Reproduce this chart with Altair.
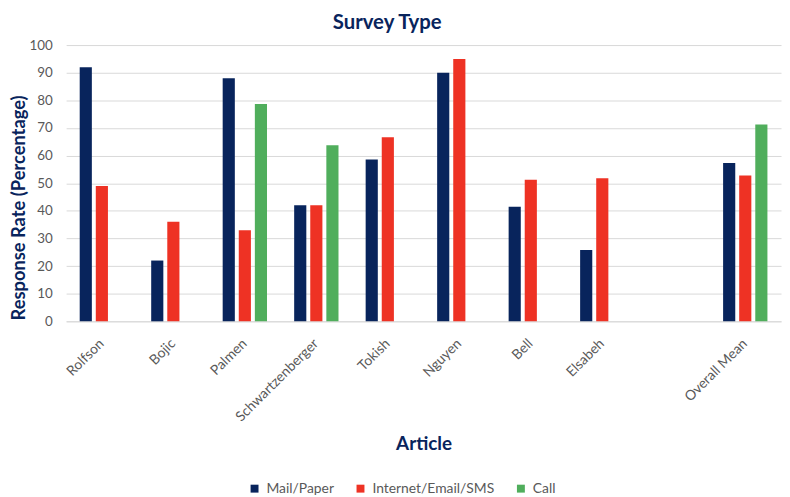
import altair as alt
import pandas as pd

articles = ["Rolfson", "Bojic", "Palmen", "Schwartzenberger", "Tokish",
            "Nguyen", "Bell", "Elsabeh", "Overall Mean"]
x_domain = ["Rolfson", "Bojic", "Palmen", "Schwartzenberger", "Tokish",
            "Nguyen", "Bell", "Elsabeh", " ", "Overall Mean"]
survey_types = ["Mail/Paper", "Internet/Email/SMS", "Call"]
mail_paper = [92, 22, 88, 42, 58.6, 90, 41.5, 25.8, 57.3]
internet_email_sms = [49, 36, 33, 42, 66.6, 95, 51.2, 51.8, 52.8]
call = [None, None, 78.7, 63.7, None, None, None, None, 71.2]
colors = ["#08245C", "#EE3224", "#50AE5C"]
y_ticks = [0, 10, 20, 30, 40, 50, 60, 70, 80, 90, 100]
chart_title = ["Survey Type"]

rows = []
for series, vals in zip(survey_types, [mail_paper, internet_email_sms, call]):
    for a, v in zip(articles, vals):
        if v is not None:
            rows.append({"article": a, "type": series, "value": v})
df = pd.DataFrame(rows)

FONT = "Lato"
NAVY = "#08245C"
GRAY = "#595959"

bars = alt.Chart(df).mark_bar().encode(
    x=alt.X("article:N",
            scale=alt.Scale(domain=x_domain, paddingInner=0.38, paddingOuter=0.19),
            axis=alt.Axis(title="Article", labelAngle=315, labelAlign="right",
                          labelBaseline="middle", labelPadding=20,
                          labelFont=FONT, labelFontSize=14, labelColor=GRAY,
                          ticks=False, domainColor="#D9D9D9", domainWidth=1,
                          titleFont=FONT, titleFontSize=19, titleFontWeight="bold",
                          titleColor=NAVY, titleY=129.5, titleBaseline="alphabetic")),
    xOffset=alt.XOffset("type:N",
                        scale=alt.Scale(domain=survey_types, paddingInner=0.245,
                                        paddingOuter=0)),
    y=alt.Y("value:Q",
            scale=alt.Scale(domain=[0, 100], nice=False),
            axis=alt.Axis(title="Response Rate (Percentage)", values=y_ticks,
                          domain=False, ticks=False, labelPadding=14,
                          labelFont=FONT, labelFontSize=13.5, labelColor=GRAY,
                          gridColor="#D9D9D9", gridWidth=1,
                          titleFont=FONT, titleFontSize=18.5, titleFontWeight="bold",
                          titleColor=NAVY, titleX=-42, titleY=164,
                          titleAngle=270, titleAlign="center",
                          titleBaseline="alphabetic")),
    color=alt.Color("type:N",
                    scale=alt.Scale(domain=survey_types, range=colors),
                    legend=alt.Legend(title=None, orient="none", direction="horizontal",
                                      legendX=183.3, legendY=441,
                                      symbolType="square", symbolSize=64,
                                      symbolStrokeWidth=0,
                                      labelFont=FONT, labelFontSize=14,
                                      labelColor=GRAY, labelOffset=5,
                                      columnPadding=19, padding=0, labelLimit=300)),
)

title = alt.Chart(pd.DataFrame({"t": chart_title})).mark_text(
    font=FONT, fontSize=20.5, fontWeight="bold", color=NAVY,
    align="center", baseline="alphabetic",
).encode(text="t:N", x=alt.value(324.3), y=alt.value(-16.5))

chart = alt.layer(bars, title).properties(
    width=722,
    height=279,
    autosize=alt.AutoSizeParams(type="none"),
    padding={"left": 58.7, "top": 35, "right": 1, "bottom": 175},
).configure_view(stroke=None)

chart.save("out.html", embed_options={"renderer": "svg", "actions": False})
